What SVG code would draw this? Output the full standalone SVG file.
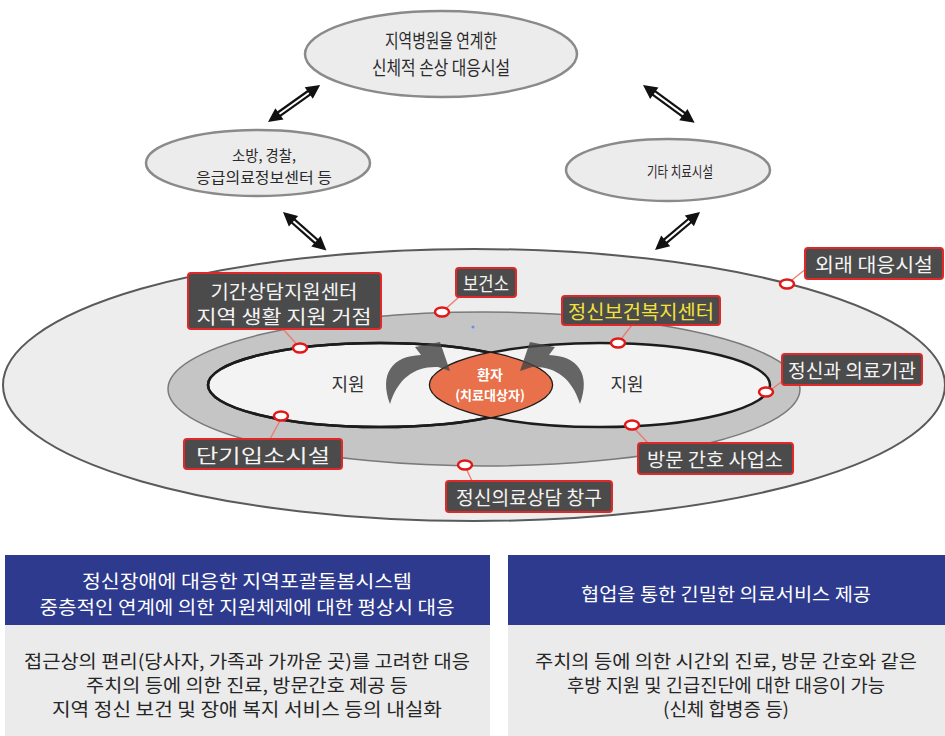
<svg xmlns="http://www.w3.org/2000/svg" width="945" height="736" viewBox="0 0 945 736">
<style>
text{font-family:"Noto Sans CJK KR","Noto Sans",sans-serif;dominant-baseline:central;text-anchor:middle}
.topell{fill:#ececec;stroke:#8a8a8a;stroke-width:2.5}
.t1{font-size:19px;fill:#2a2a2a}
.t2{font-size:15px;fill:#2a2a2a}
.box{fill:#4b4b4b;stroke:#e02828;stroke-width:2}
.bt{font-size:19px;fill:#f4f4f4}
.yt{font-size:19px;fill:#f2e23a}
.dot{fill:#fff;stroke:#e01818;stroke-width:2.5}
.lead{stroke:#ea7a70;stroke-width:1.3;fill:none}
.inner{fill:#f3f3f3;stroke:#1c1c1c;stroke-width:2.5}
.hd{fill:#2d3a8e}
.bd{fill:#ebebeb}
.ht{font-size:18px;fill:#fff}
.btx{font-size:18px;fill:#262626}
.sw{fill:#454545;fill-opacity:0.82}
</style>
<defs>
<clipPath id="clipL"><ellipse cx="380" cy="385" rx="172" ry="42"/></clipPath>
</defs>

<g id="outer-area">
<ellipse cx="474" cy="385" rx="471" ry="136" fill="#ededed" stroke="#5a5a5a" stroke-width="2"/>
<ellipse cx="484" cy="389" rx="316" ry="77" fill="#c5c5c5" stroke="#7a7a7a" stroke-width="1.5"/>
<ellipse class="inner" cx="380" cy="385" rx="172" ry="42"/>
<ellipse class="inner" cx="600" cy="385" rx="170" ry="42"/>
<ellipse cx="380" cy="385" rx="172" ry="42" fill="none" stroke="#1c1c1c" stroke-width="2.5"/>
<circle cx="473" cy="327" r="1.5" fill="#6a8ef0"/>
</g>

<g id="patient">
<ellipse cx="600" cy="385" rx="170" ry="42" fill="#e8704a" clip-path="url(#clipL)"/>
<path class="sw" d="M390 404 C379 374 392 356 421 355 L415 347 L440 342 L450 371 L438 367 C415 366 398 378 390 404 Z"/>
<path class="sw" transform="translate(970 0) scale(-1 1)" d="M390 404 C379 374 392 356 421 355 L415 347 L440 342 L450 371 L438 367 C415 366 398 378 390 404 Z"/>
<text x="490" y="374" font-size="14" font-weight="bold" fill="#fff">환자</text>
<text x="490" y="394" font-size="13" font-weight="bold" fill="#fff">(치료대상자)</text>
</g>

<text x="348" y="383" font-size="18" fill="#333">지원</text>
<text x="627" y="383" font-size="18" fill="#333">지원</text>

<g id="top-hospital">
<ellipse class="topell" cx="441" cy="54" rx="136" ry="43"/>
<text class="t1" x="441" y="39" textLength="112" lengthAdjust="spacingAndGlyphs">지역병원을 연계한</text>
<text class="t1" x="441" y="66" textLength="138" lengthAdjust="spacingAndGlyphs">신체적 손상 대응시설</text>
</g>
<g id="fire-police">
<ellipse class="topell" cx="258" cy="163" rx="112" ry="33"/>
<text class="t2" x="264" y="154" textLength="64" lengthAdjust="spacingAndGlyphs">소방, 경찰,</text>
<text class="t2" x="264" y="176" textLength="136" lengthAdjust="spacingAndGlyphs">응급의료정보센터 등</text>
</g>
<g id="other-facility">
<ellipse class="topell" cx="668" cy="170" rx="102" ry="31"/>
<text class="t2" x="680" y="170" textLength="66" lengthAdjust="spacingAndGlyphs">기타 치료시설</text>
</g>

<g id="connectors">
<g transform="translate(268 122) rotate(-35.4)">
<rect x="10" y="-3.2" width="44" height="6.4" fill="#111"/><rect x="10" y="-1" width="44" height="2" fill="#fff"/>
<polygon points="0,0 14,-7 14,7" fill="#111"/><polygon points="64,0 50,-7 50,7" fill="#111"/>
</g>
<g transform="translate(643 85) rotate(36.2)">
<rect x="10" y="-3.2" width="44" height="6.4" fill="#111"/><rect x="10" y="-1" width="44" height="2" fill="#fff"/>
<polygon points="0,0 14,-7 14,7" fill="#111"/><polygon points="64,0 50,-7 50,7" fill="#111"/>
</g>
<g transform="translate(283 212) rotate(41.5)">
<rect x="10" y="-3.2" width="38" height="6.4" fill="#111"/><rect x="10" y="-1" width="38" height="2" fill="#fff"/>
<polygon points="0,0 14,-7 14,7" fill="#111"/><polygon points="58,0 44,-7 44,7" fill="#111"/>
</g>
<g transform="translate(655 250) rotate(-40.2)">
<rect x="10" y="-3.2" width="39" height="6.4" fill="#111"/><rect x="10" y="-1" width="39" height="2" fill="#fff"/>
<polygon points="0,0 14,-7 14,7" fill="#111"/><polygon points="59,0 45,-7 45,7" fill="#111"/>
</g>
<line class="lead" x1="283" y1="329" x2="300" y2="348"/>
<line class="lead" x1="459" y1="297" x2="442" y2="312"/>
<line class="lead" x1="807" y1="268" x2="787" y2="284"/>
<line class="lead" x1="632" y1="325" x2="618" y2="343"/>
<line class="lead" x1="784" y1="380" x2="768" y2="392"/>
<line class="lead" x1="270" y1="439" x2="281" y2="419"/>
<line class="lead" x1="648" y1="443" x2="632" y2="426"/>
<line class="lead" x1="472" y1="481" x2="465" y2="466"/>
</g>

<g id="dots">
<ellipse class="dot" cx="300" cy="348" rx="7" ry="4.5"/>
<ellipse class="dot" cx="442" cy="312" rx="7" ry="4.5"/>
<ellipse class="dot" cx="787" cy="284" rx="7" ry="4.5"/>
<ellipse class="dot" cx="618" cy="343" rx="7" ry="4.5"/>
<ellipse class="dot" cx="766" cy="392" rx="7" ry="4.5"/>
<ellipse class="dot" cx="281" cy="416" rx="7" ry="4.5"/>
<ellipse class="dot" cx="632" cy="425" rx="7" ry="4.5"/>
<ellipse class="dot" cx="465" cy="465" rx="7" ry="4.5"/>
</g>

<g id="label-center">
<rect class="box" x="188" y="273" width="193" height="56" rx="3"/>
<text class="bt" x="284" y="290" textLength="147" lengthAdjust="spacingAndGlyphs">기간상담지원센터</text>
<text class="bt" x="284" y="315" textLength="175" lengthAdjust="spacingAndGlyphs">지역 생활 지원 거점</text>
</g>
<g id="label-bogeonso">
<rect class="box" x="456" y="268" width="60" height="29" rx="3"/>
<text class="bt" x="486" y="282" textLength="46" lengthAdjust="spacingAndGlyphs">보건소</text>
</g>
<g id="label-outpatient">
<rect class="box" x="805" y="248" width="138" height="31" rx="3"/>
<text class="bt" x="874" y="263" textLength="118" lengthAdjust="spacingAndGlyphs">외래 대응시설</text>
</g>
<g id="label-mhwc">
<rect class="box" x="562" y="296" width="158" height="29" rx="3"/>
<text class="yt" x="641" y="310" textLength="146" lengthAdjust="spacingAndGlyphs">정신보건복지센터</text>
</g>
<g id="label-psych">
<rect class="box" x="782" y="354" width="140" height="31" rx="3"/>
<text class="bt" x="852" y="369" textLength="128" lengthAdjust="spacingAndGlyphs">정신과 의료기관</text>
</g>
<g id="label-shortstay">
<rect class="box" x="184" y="439" width="158" height="30" rx="3"/>
<text class="bt" x="263" y="454" textLength="134" lengthAdjust="spacingAndGlyphs">단기입소시설</text>
</g>
<g id="label-visit">
<rect class="box" x="638" y="443" width="155" height="31" rx="3"/>
<text class="bt" x="715" y="458" textLength="136" lengthAdjust="spacingAndGlyphs">방문 간호 사업소</text>
</g>
<g id="label-counsel">
<rect class="box" x="446" y="481" width="166" height="31" rx="3"/>
<text class="bt" x="529" y="496" textLength="146" lengthAdjust="spacingAndGlyphs">정신의료상담 창구</text>
</g>

<g id="panel-left">
<rect class="hd" x="5" y="555" width="485" height="70"/>
<rect class="bd" x="5" y="625" width="485" height="111"/>
<text class="ht" x="247" y="580" textLength="330" lengthAdjust="spacingAndGlyphs">정신장애에 대응한 지역포괄돌봄시스템</text>
<text class="ht" x="247" y="606" textLength="415" lengthAdjust="spacingAndGlyphs">중층적인 연계에 의한 지원체제에 대한 평상시 대응</text>
<text class="btx" x="247" y="660" textLength="446" lengthAdjust="spacingAndGlyphs">접근상의 편리(당사자, 가족과 가까운 곳)를 고려한 대응</text>
<text class="btx" x="247" y="684" textLength="322" lengthAdjust="spacingAndGlyphs">주치의 등에 의한 진료, 방문간호 제공 등</text>
<text class="btx" x="247" y="708" textLength="390" lengthAdjust="spacingAndGlyphs">지역 정신 보건 및 장애 복지 서비스 등의 내실화</text>
</g>
<g id="panel-right">
<rect class="hd" x="508" y="555" width="437" height="70"/>
<rect class="bd" x="508" y="625" width="437" height="111"/>
<text class="ht" x="726" y="593" textLength="290" lengthAdjust="spacingAndGlyphs">협업을 통한 긴밀한 의료서비스 제공</text>
<text class="btx" x="726" y="660" textLength="382" lengthAdjust="spacingAndGlyphs">주치의 등에 의한 시간외 진료, 방문 간호와 같은</text>
<text class="btx" x="726" y="684" textLength="318" lengthAdjust="spacingAndGlyphs">후방 지원 및 긴급진단에 대한 대응이 가능</text>
<text class="btx" x="726" y="708" textLength="126" lengthAdjust="spacingAndGlyphs">(신체 합병증 등)</text>
</g>
</svg>
